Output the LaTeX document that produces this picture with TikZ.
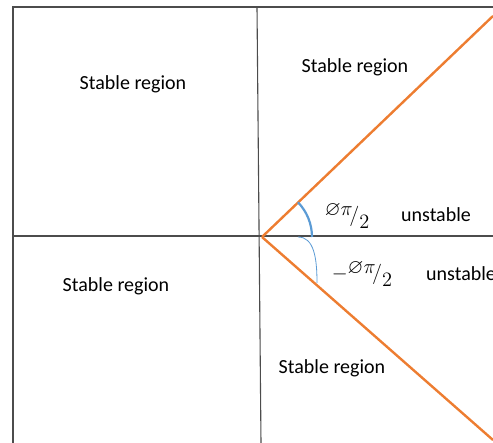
\documentclass[tikz,border=0pt]{standalone}
\usepackage{amsmath,amssymb}
\usepackage{fontspec}
\setmainfont{Carlito}
\usetikzlibrary{positioning,calc}
\newcommand{\regionfont}{\fontsize{20}{24}\selectfont}
\newcommand{\halfangle}{\raisebox{4pt}{$\varnothing\pi$}\!/\raisebox{-4pt}{$2$}}
\definecolor{boundorange}{RGB}{237,125,49}
\definecolor{arcblue}{RGB}{91,155,213}

\begin{document}
\begin{tikzpicture}[
  x=1pt, y=-1pt,
  every node/.style={font=\regionfont, inner sep=1pt},
  axis/.style={draw=black!70, line width=1.1pt},
  bound/.style={draw=boundorange, line width=2.4pt},
  angarc/.style={draw=arcblue},
  ang/.style={font=\fontsize{12}{14}\selectfont, scale=1.7}
]
\useasboundingbox (0,0) rectangle (493,443);
\clip (0,0) rectangle (493,443);

% frame and axes
\coordinate (tl) at (13,7);
\coordinate (tr) at (493,7);
\coordinate (bl) at (13,443);
\coordinate (ml) at (13,236);
\coordinate (mr) at (493,236);
\coordinate (vt) at (257,7);
\coordinate (vb) at (261,443);
\coordinate (o) at (262,237);
\coordinate (up) at (493,16);
\coordinate (lo) at (493,440);

\draw[axis] (bl) -- (tl) -- (tr);
\draw[axis] (ml) -- (mr);
\draw[axis] (vt) -- (vb);

% stability boundaries
\draw[bound] (o) -- (up);
\draw[bound] (o) -- (lo);

% angle marks
\draw[angarc, line width=2.2pt] ($(o)+(-44:50)$) arc[start angle=-44, end angle=0, radius=50];
\draw[angarc, line width=0.8pt] (298,237) .. controls (314,237) and (317,258) .. (317,283);

% labels
\node (sr1) at (133,84) {Stable region};
\node (sr2) at (355,67) {Stable region};
\node (sr3) at (116,286) {Stable region};
\node (sr4) at (332,368) {Stable region};
\node (us1) at (436,215) {unstable};
\node[anchor=west] (us2) at (425,274) {unstable};
\node[ang] (a1) at (347,216) {$\halfangle$};
\node[ang] (a2) at (362,274) {$-\halfangle$};

\end{tikzpicture}
\end{document}
